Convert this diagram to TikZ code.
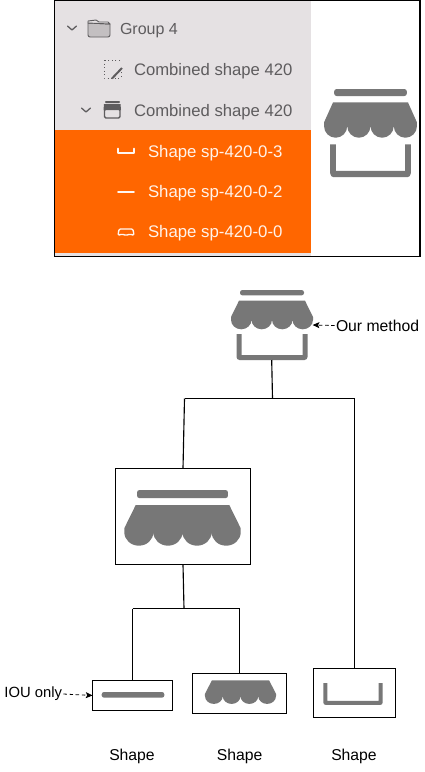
\documentclass[tikz,border=0pt]{standalone}
\usepackage{fontspec}
\setmainfont{Liberation Sans}
\usetikzlibrary{arrows.meta}
\definecolor{iconc}{HTML}{777777}
\definecolor{panelg}{HTML}{E5E1E3}
\definecolor{orangep}{HTML}{FF6600}
\definecolor{ptext}{HTML}{5E5C5E}
\newcommand{\pxfont}[1]{\fontsize{#1}{#1}\selectfont}
\newcommand{\iconbar}[4]{\begin{scope}[shift={(#1,#2)},xscale=#3,yscale=#4]
  \fill[iconc,rounded corners=1.8pt] (-32,0) rectangle (32,5.4);
\end{scope}}
\newcommand{\iconawn}[4]{\begin{scope}[shift={(#1,#2)},xscale=#3,yscale=#4]
  \fill[iconc] (-33,10.7) -- (33,10.7) -- (41,27) -- (41,29.8)
    arc[start angle=0,end angle=180,x radius=10.25,y radius=9.5]
    arc[start angle=0,end angle=180,x radius=10.25,y radius=9.5]
    arc[start angle=0,end angle=180,x radius=10.25,y radius=9.5]
    arc[start angle=0,end angle=180,x radius=10.25,y radius=9.5]
    -- (-41,27) -- cycle;
\end{scope}}
\newcommand{\iconbrk}[4]{\begin{scope}[shift={(#1,#2)},xscale=#3,yscale=#4]
  \fill[iconc] (-35.5,44) -- (-35.5,67) to[out=-90,in=180] (-32.5,70) -- (32.5,70) to[out=0,in=-90] (35.5,67) -- (35.5,44)
    -- (30.5,44) -- (30.5,65) -- (-30.5,65) -- (-30.5,44) -- cycle;
\end{scope}}
\tikzset{
  x=0.75pt,y=-0.75pt,
  boxn/.style={draw=black,line width=0.85pt,fill=none,inner sep=0pt,outer sep=0pt},
  ghost/.style={inner sep=0pt,outer sep=0pt},
  conn/.style={draw=black,line width=0.85pt},
  lab/.style={inner sep=0pt,outer sep=0pt,text=black,font=\pxfont{11.8pt}},
  dasharrow/.style={draw=black,line width=0.6pt,dash pattern=on 2.6pt off 2pt,-{Stealth[length=5pt,width=4.5pt,inset=1pt]}},
  ptxt/.style={inner sep=0pt,outer sep=0pt,anchor=west,text=ptext,font=\pxfont{12.5pt}},
  wtxt/.style={inner sep=0pt,outer sep=0pt,anchor=west,text=white!92!orangep,font=\pxfont{12.6pt}},
  sico/.style={draw=ptext,line width=0.7pt,line cap=round,line join=round},
  wico/.style={draw=white!95!orangep,line width=1.3pt,line cap=round,line join=round},
}
\begin{document}
\begin{tikzpicture}
\useasboundingbox (0,0) rectangle (425,772);
\fill[white] (0,0) rectangle (425,772);
% screenshot panel
\fill[panelg] (55,1) rectangle (311,256);
\fill[orangep] (55,130) rectangle (311,253);
\draw[black,line width=0.8pt] (54.6,0.6) rectangle (420,256.5);
% panel icons
\draw[sico,line width=0.95pt] (67.5,26) -- (72,30) -- (76.5,26);
\draw[sico,line width=0.95pt] (81.5,108) -- (86,112) -- (90.5,108);
\draw[sico,fill=panelg!85!black] (88,23) -- (88,35) to[out=-90,in=180] (90,37) -- (108,37) to[out=0,in=-90] (110,35) -- (110,24) -- cycle;
\draw[sico,fill=panelg] (88,23) -- (88,21) -- (96,20) -- (99,22) -- (108,22) -- (110,24) -- cycle;
\draw[sico,dotted,line width=0.7pt,line cap=butt] (104,60) rectangle (121,78);
\fill[panelg] (116,72) rectangle (122,62);
\draw[ptext,line width=1.5pt] (112,78.5) -- (122,68);
\draw[sico,line width=1pt,rounded corners=1pt] (104.5,109) rectangle (120,118);
\fill[ptext,rounded corners=0.6pt] (105,101) rectangle (120,103);
\fill[ptext] (104,104) -- (120.5,104) -- (121,110) -- (103.5,110) -- cycle;
\fill[panelg] (108,112.5) rectangle (116.5,115.5);
% list text
\node[ptxt,font=\pxfont{12pt}] (t1) at (120,30.5) {Group 4};
\node[ptxt] (t2) at (134,71) {Combined shape 420};
\node[ptxt] (t3) at (134,112) {Combined shape 420};
\node[wtxt] (t4) at (148,153.5) {Shape sp-420-0-3};
\node[wtxt] (t5) at (148,193.5) {Shape sp-420-0-2};
\node[wtxt] (t6) at (148,233.5) {Shape sp-420-0-0};
\draw[wico] (118,148.5) -- (118,153) -- (134,153) -- (134,148.5);
\draw[wico] (118,192) -- (134,192);
\draw[wico,line width=1pt,rounded corners=1pt] (118,235.5) -- (119,229) -- (133,229) -- (134,235.5) -- (130,234) -- (126,235.5) -- (122,234) -- cycle;
% panel large icon
\iconbar{370.5}{89}{1.134}{1.3}
\iconawn{370.5}{89}{1.134}{1.24}
\iconbrk{370.5}{89}{1.134}{1.26}
% top icon
\iconbar{272}{290}{1}{1}
\iconawn{272}{290}{1}{1}
\iconbrk{272}{290}{1}{1}
\node[ghost,minimum width=61.5pt,minimum height=52.5pt] (top) at (271.7,325) {};
% big box
\iconbar{182.5}{490}{1.42}{1.5}
\iconawn{182.5}{490}{1.42}{1.417}
\node[boxn,minimum width=101.25pt,minimum height=72pt] (big) at (183,516.5) {};
% leaves
\iconbar{133}{692}{0.98}{1.05}
\node[boxn,minimum width=60pt,minimum height=22.5pt] (leafa) at (132.5,695.5) {};
\iconawn{240.5}{671.5}{0.866}{0.825}
\node[boxn,minimum width=70.5pt,minimum height=30pt] (leafb) at (239.5,693.5) {};
\iconbrk{353}{646.5}{0.837}{0.835}
\node[boxn,minimum width=61.5pt,minimum height=36.75pt] (leafc) at (354.5,693) {};
% junctions
\coordinate (j1) at (272.5,398.5);
\coordinate (j1l) at (184.5,398.5);
\coordinate (j1r) at (354.5,398.5);
\coordinate (j2) at (184,608.5);
\coordinate (j2l) at (132.5,608.5);
\coordinate (j2r) at (239.5,608.5);
\draw[conn] (top.south) -- (j1);
\draw[conn] (j1l) -- (j1r);
\draw[conn] (j1l) -- (big.north);
\draw[conn] (j1r) -- (leafc.north);
\draw[conn] (big.south) -- (j2);
\draw[conn] (j2l) -- (j2r);
\draw[conn] (j2l) -- (leafa.north);
\draw[conn] (j2r) -- (leafb.north);
% labels
\node[lab,anchor=west] (our) at (336,325.5) {Our method};
\node[lab,anchor=west,font=\pxfont{11.1pt}] (iou) at (4.5,694) {IOU only};
\node[lab] (s1) at (132,756.5) {Shape};
\node[lab] (s2) at (239.7,756.5) {Shape};
\node[lab] (s3) at (354,756.5) {Shape};
\draw[dasharrow] ([xshift=-1pt]our.west) -- (top.east);
\draw[dasharrow] ([xshift=1pt]iou.east) -- (leafa.west);
\end{tikzpicture}
\end{document}
